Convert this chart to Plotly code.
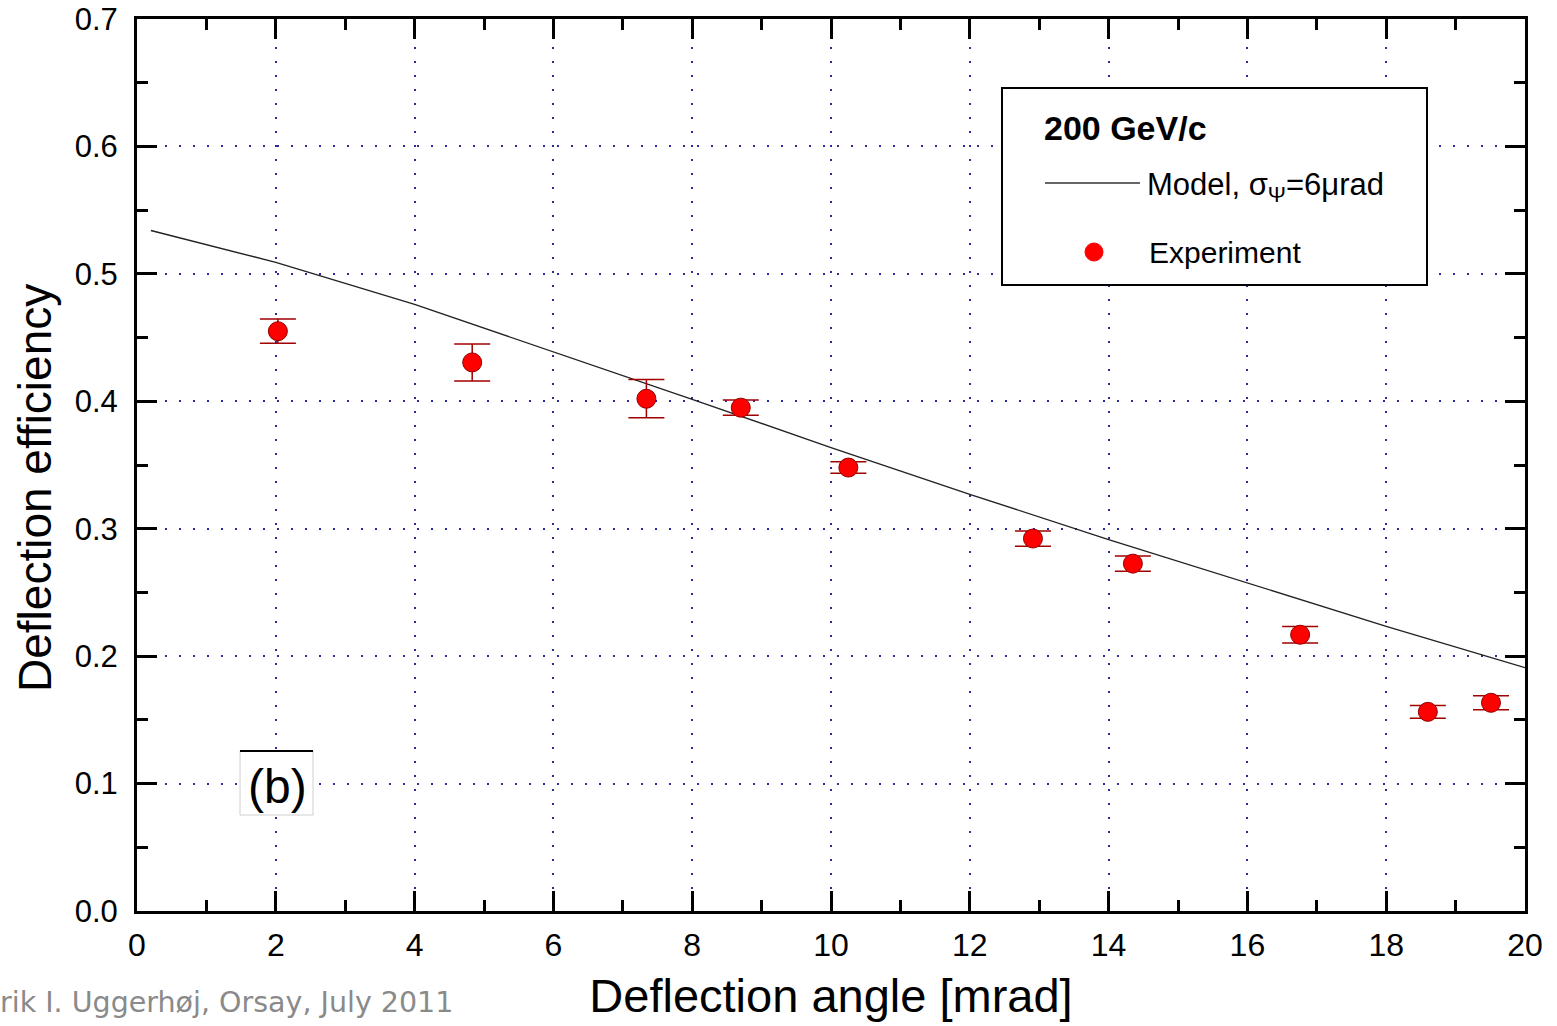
import plotly.graph_objects as go

# ---- data ----
model_angle = [0.2, 2, 4, 6, 8, 10, 12, 14, 16, 18, 20]
model_eff = [0.534, 0.509, 0.476, 0.439, 0.4015, 0.3637, 0.327, 0.2915, 0.2577, 0.2234, 0.191]

exp_angle = [2.03, 4.83, 7.34, 8.70, 10.25, 12.91, 14.35, 16.76, 18.60, 19.51]
exp_eff = [0.455, 0.4305, 0.402, 0.395, 0.348, 0.2923, 0.2726, 0.2168, 0.1563, 0.1634]
exp_err = [0.0095, 0.0145, 0.015, 0.006, 0.0045, 0.006, 0.006, 0.0065, 0.005, 0.0055]

x_ticks = [0, 2, 4, 6, 8, 10, 12, 14, 16, 18, 20]
y_ticks = [0.0, 0.1, 0.2, 0.3, 0.4, 0.5, 0.6, 0.7]

W, H = 1557, 1026
L, R, T, B = 137, 32, 19, 115
PW, PH = W - L - R, H - T - B


def px(xp):
    return (xp - L) / PW


def py(yp):
    return (H - B - yp) / PH


fig = go.Figure()
fig.add_trace(go.Scatter(
    x=model_angle, y=model_eff, mode="lines",
    line=dict(color="#222222", width=1.4),
    name="Model, σΨ=6μrad", showlegend=False,
))
fig.add_trace(go.Scatter(
    x=exp_angle, y=exp_eff, mode="markers",
    marker=dict(size=19, color="#ff0000", line=dict(color="#900000", width=1)),
    error_y=dict(type="data", array=exp_err, visible=True, color="#a00000",
                 thickness=1.5, width=18),
    name="Experiment", showlegend=False,
))

axis_common = dict(
    showline=True, linecolor="black", linewidth=3, mirror="ticks",
    ticks="inside", ticklen=20, tickwidth=3, tickcolor="black",
    showgrid=True, gridcolor="#2a2a9a", gridwidth=1.5, griddash="2px,12px",
    zeroline=False, automargin=False,
)

fig.update_xaxes(
    range=[0, 20], tickvals=x_ticks, ticktext=[str(v) for v in x_ticks],
    tickfont=dict(family="Liberation Sans, Arial", size=32, color="black"),
    ticklabelstandoff=4,
    minor=dict(dtick=1, ticks="inside", ticklen=11, tickwidth=3, tickcolor="black", showgrid=False),
    title=dict(text="Deflection angle [mrad]",
               font=dict(family="Liberation Sans, Arial", size=47, color="black"), standoff=17),
    **axis_common,
)
fig.update_yaxes(
    range=[0, 0.7], tickvals=y_ticks, ticktext=[f"{v:.1f}" for v in y_ticks],
    tickfont=dict(family="Liberation Sans, Arial", size=31, color="black"),
    ticklabelstandoff=10,
    minor=dict(dtick=0.05, ticks="inside", ticklen=11, tickwidth=3, tickcolor="black", showgrid=False),
    **axis_common,
)

shapes = []
annotations = []

# y-axis title (placed as in the reference, below the plot centre)
annotations.append(dict(xref="paper", yref="paper", x=px(35), y=py(488),
                        xanchor="center", yanchor="middle", showarrow=False,
                        textangle=-90, text="Deflection efficiency",
                        font=dict(family="Liberation Sans, Arial", size=46, color="black")))

# legend box
shapes.append(dict(type="rect", xref="paper", yref="paper",
                   x0=px(1002), x1=px(1427), y0=py(285), y1=py(88),
                   line=dict(color="black", width=2), fillcolor="white", layer="above"))
annotations.append(dict(xref="paper", yref="paper", x=px(1042), y=py(128),
                        xanchor="left", yanchor="middle", showarrow=False,
                        text="<b>200 GeV/c</b>",
                        font=dict(family="Liberation Sans, Arial", size=34, color="black")))
shapes.append(dict(type="line", xref="paper", yref="paper",
                   x0=px(1045), x1=px(1140), y0=py(183), y1=py(183),
                   line=dict(color="#333333", width=1.5), layer="above"))
annotations.append(dict(xref="paper", yref="paper", x=px(1145), y=py(187),
                        xanchor="left", yanchor="middle", showarrow=False,
                        text="Model, σ<sub>Ψ</sub>=6μrad",
                        font=dict(family="Liberation Sans, Arial", size=31, color="black")))
shapes.append(dict(type="circle", xref="paper", yref="paper",
                   x0=px(1085), x1=px(1103), y0=py(261), y1=py(243),
                   line=dict(color="#ff0000", width=1), fillcolor="#ff0000", layer="above"))
annotations.append(dict(xref="paper", yref="paper", x=px(1147), y=py(253),
                        xanchor="left", yanchor="middle", showarrow=False,
                        text="Experiment",
                        font=dict(family="Liberation Sans, Arial", size=30, color="black")))

# (b) panel label
shapes.append(dict(type="rect", xref="paper", yref="paper",
                   x0=px(240), x1=px(313), y0=py(815), y1=py(751),
                   line=dict(color="#d0d0d0", width=1), fillcolor="white", layer="above"))
shapes.append(dict(type="line", xref="paper", yref="paper",
                   x0=px(240), x1=px(313), y0=py(751), y1=py(751),
                   line=dict(color="black", width=2), layer="above"))
annotations.append(dict(xref="paper", yref="paper", x=px(277), y=py(786),
                        xanchor="center", yanchor="middle", showarrow=False,
                        text="(b)",
                        font=dict(family="Liberation Sans, Arial", size=48, color="black")))

# footer text
annotations.append(dict(xref="paper", yref="paper", x=px(-2), y=py(1002),
                        xanchor="left", yanchor="middle", showarrow=False,
                        text="rik I. Uggerhøj, Orsay, July 2011",
                        font=dict(family="DejaVu Sans", size=28.5, color="#8a8a8a")))

fig.update_layout(
    width=W, height=H,
    margin=dict(l=L, r=R, t=T, b=B),
    paper_bgcolor="white", plot_bgcolor="white",
    showlegend=False,
    shapes=shapes, annotations=annotations,
)

fig.write_html("out.html", config={"displayModeBar": False},
               post_script="document.body.style.margin='0';document.body.style.padding='0';")
